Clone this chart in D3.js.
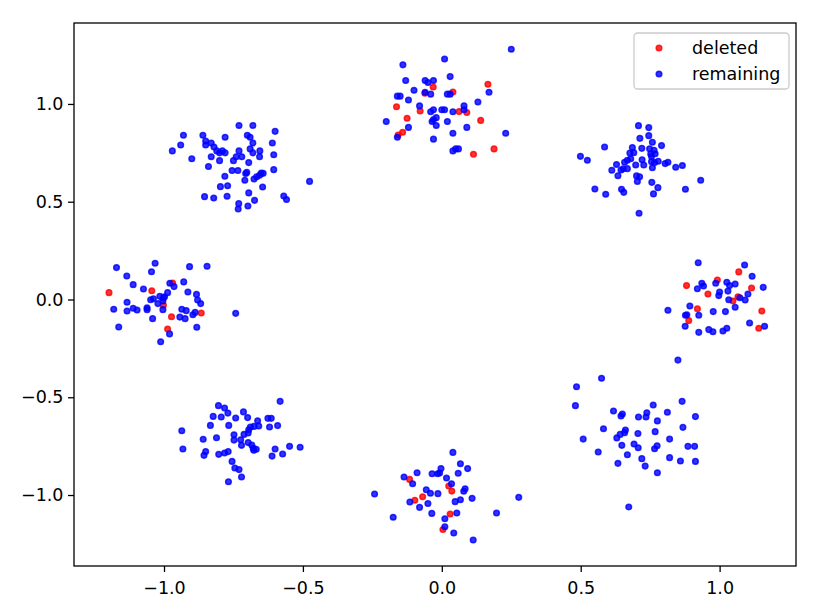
<!DOCTYPE html>
<html>
<head>
<meta charset="utf-8">
<script src="https://cdn.jsdelivr.net/npm/d3@7/dist/d3.min.js"></script>
<style>
  body { margin: 0; background: #fff; }
  svg { display: block; font-family: "DejaVu Sans", sans-serif; }
</style>
</head>
<body>
<svg width="822" height="616"></svg>
<script>
// points that were dropped (red)
var deleted = [
  [0.166, 1.101], [-0.031, 1.087], [-0.061, 1.055], [0.04, 1.061], [-0.163, 0.986], [-0.078, 0.964],
  [0.062, 0.961], [0.09, 0.956], [-0.125, 0.927], [0.14, 0.916], [-0.141, 0.855], [-0.157, 0.841],
  [0.188, 0.77], [0.114, 0.743],
  [-1.198, 0.035], [-1.044, 0.045], [-0.969, 0.084], [-1.002, -0.03], [-0.973, -0.088], [-0.866, -0.069],
  [-0.987, -0.151],
  [0.881, 0.071], [0.992, 0.1], [1.069, 0.141], [0.958, 0.028], [1.115, 0.059], [1.066, 0.014],
  [1.048, -0.008], [0.92, -0.047], [0.889, -0.108], [1.152, -0.059], [1.141, -0.147],
  [-0.116, -0.92], [0.025, -0.954], [0.036, -0.98], [-0.069, -1.009], [-0.097, -1.027], [0.03, -1.097],
  [0.004, -1.176]
];

// points that stay (blue)
var remaining = [
  // top
  [0.25, 1.28], [0.01, 1.23], [-0.14, 1.2], [0.03, 1.14], [-0.13, 1.12], [-0.06, 1.12], [-0.05, 1.11],
  [-0.03, 1.12], [-0.1, 1.07], [-0.06, 1.06], [-0.04, 1.05], [0.02, 1.05], [0.03, 1.05], [-0.16, 1.04],
  [-0.15, 1.04], [-0.12, 1.02], [0.17, 1.06], [0.13, 1.01], [-0.08, 0.99], [0.08, 0.99], [0.08, 0.97],
  [-0.04, 0.96], [-0.03, 0.97], [0.0, 0.97], [0.01, 0.97], [0.04, 0.96], [-0.2, 0.91], [-0.02, 0.93],
  [-0.035, 0.91], [-0.03, 0.92], [0.02, 0.91], [-0.02, 0.89], [-0.12, 0.88], [0.09, 0.88], [-0.16, 0.83],
  [-0.03, 0.82], [0.04, 0.85], [0.23, 0.85], [0.04, 0.76], [0.05, 0.77], [0.06, 0.77],
  // top left
  [-0.73, 0.89], [-0.68, 0.89], [-0.93, 0.84], [-0.86, 0.84], [-0.7, 0.84], [-0.69, 0.83], [-0.6, 0.86],
  [-0.97, 0.76], [-0.94, 0.79], [-0.85, 0.81], [-0.85, 0.79], [-0.83, 0.8], [-0.82, 0.78], [-0.78, 0.83],
  [-0.68, 0.8], [-0.61, 0.8], [-0.81, 0.76], [-0.8, 0.75], [-0.79, 0.76], [-0.78, 0.75], [-0.73, 0.76],
  [-0.69, 0.77], [-0.68, 0.75], [-0.655, 0.76], [-0.656, 0.73], [-0.605, 0.74], [-0.9, 0.72], [-0.83, 0.73],
  [-0.74, 0.73], [-0.72, 0.73], [-0.75, 0.71], [-0.8, 0.71], [-0.695, 0.7], [-0.84, 0.68], [-0.755, 0.66],
  [-0.734, 0.66], [-0.702, 0.65], [-0.706, 0.644], [-0.605, 0.664], [-0.65, 0.647], [-0.643, 0.645],
  [-0.656, 0.635], [-0.666, 0.628], [-0.676, 0.616], [-0.781, 0.63], [-0.709, 0.61], [-0.476, 0.604],
  [-0.771, 0.582], [-0.797, 0.577], [-0.645, 0.575], [-0.569, 0.529], [-0.559, 0.511], [-0.854, 0.526],
  [-0.821, 0.519], [-0.773, 0.528], [-0.695, 0.545], [-0.674, 0.507], [-0.731, 0.49], [-0.698, 0.478],
  [-0.733, 0.463],
  // top right
  [0.708, 0.889], [0.745, 0.879], [0.713, 0.824], [0.745, 0.838], [0.758, 0.804], [0.791, 0.787],
  [0.586, 0.78], [0.686, 0.777], [0.72, 0.773], [0.748, 0.771], [0.764, 0.763], [0.677, 0.749],
  [0.691, 0.751], [0.752, 0.744], [0.768, 0.745], [0.499, 0.732], [0.524, 0.712], [0.68, 0.72],
  [0.668, 0.712], [0.658, 0.702], [0.721, 0.715], [0.755, 0.731], [0.755, 0.705], [0.766, 0.7],
  [0.779, 0.707], [0.804, 0.695], [0.814, 0.702], [0.629, 0.69], [0.698, 0.688], [0.727, 0.688],
  [0.758, 0.674], [0.842, 0.676], [0.866, 0.685], [0.612, 0.661], [0.645, 0.662], [0.653, 0.668],
  [0.668, 0.669], [0.634, 0.633], [0.701, 0.632], [0.712, 0.628], [0.704, 0.604], [0.756, 0.599],
  [0.932, 0.61], [0.551, 0.565], [0.59, 0.538], [0.647, 0.564], [0.655, 0.548], [0.778, 0.572],
  [0.762, 0.54], [0.877, 0.564], [0.71, 0.441],
  // left
  [-1.032, 0.185], [-1.171, 0.163], [-1.045, 0.142], [-0.908, 0.168], [-0.845, 0.17], [-1.134, 0.12],
  [-1.111, 0.076], [-1.074, 0.054], [-0.979, 0.083], [-0.964, 0.066], [-0.929, 0.09], [-0.987, 0.035],
  [-0.914, 0.038], [-0.883, 0.026], [-1.048, -0.001], [-1.038, 0.004], [-1.015, 0.016], [-1.003, 0.008],
  [-0.998, 0.014], [-1.022, -0.021], [-1.004, -0.008], [-1.004, -0.052], [-1.133, -0.014], [-1.133, -0.059],
  [-1.181, -0.05], [-1.111, -0.045], [-1.097, -0.054], [-1.061, -0.042], [-1.061, -0.052], [-0.879, -0.003],
  [-0.868, -0.021], [-0.936, -0.05], [-0.92, -0.057], [-0.888, -0.066], [-0.896, -0.078], [-0.943, -0.09],
  [-0.924, -0.098], [-1.041, -0.098], [-0.742, -0.071], [-1.163, -0.141], [-0.882, -0.142], [-0.98, -0.176],
  [-1.012, -0.216],
  // right
  [0.923, 0.188], [1.09, 0.176], [1.117, 0.119], [0.936, 0.083], [0.942, 0.069], [0.92, 0.055],
  [0.986, 0.083], [1.026, 0.088], [1.036, 0.071], [1.056, 0.079], [1.157, 0.062], [1.0, 0.038],
  [1.03, 0.043], [0.997, 0.02], [1.073, 0.009], [1.102, 0.028], [1.033, -0.001], [1.092, -0.003],
  [1.056, -0.04], [0.893, -0.033], [0.814, -0.055], [0.925, -0.081], [0.877, -0.081], [0.882, -0.078],
  [0.977, -0.062], [1.021, -0.062], [0.876, -0.137], [0.925, -0.168], [0.961, -0.154], [0.976, -0.165],
  [1.012, -0.161], [1.026, -0.147], [1.108, -0.12], [1.162, -0.137], [0.85, -0.31],
  // bottom left
  [-0.804, -0.543], [-0.782, -0.555], [-0.77, -0.581], [-0.714, -0.575], [-0.582, -0.521], [-0.823, -0.598],
  [-0.794, -0.601], [-0.742, -0.606], [-0.699, -0.604], [-0.626, -0.608], [-0.614, -0.608], [-0.663, -0.62],
  [-0.833, -0.644], [-0.767, -0.644], [-0.689, -0.652], [-0.676, -0.649], [-0.659, -0.647], [-0.62, -0.652],
  [-0.591, -0.645], [-0.695, -0.666], [-0.697, -0.683], [-0.936, -0.671], [-0.859, -0.715], [-0.811, -0.707],
  [-0.748, -0.692], [-0.748, -0.719], [-0.712, -0.69], [-0.724, -0.717], [-0.721, -0.746], [-0.697, -0.732],
  [-0.684, -0.744], [-0.679, -0.761], [-0.677, -0.771], [-0.668, -0.766], [-0.932, -0.765], [-0.85, -0.778],
  [-0.856, -0.797], [-0.803, -0.792], [-0.782, -0.785], [-0.769, -0.778], [-0.6, -0.765], [-0.548, -0.751],
  [-0.51, -0.756], [-0.611, -0.801], [-0.573, -0.79], [-0.755, -0.828], [-0.745, -0.862], [-0.73, -0.87],
  [-0.721, -0.908], [-0.768, -0.932],
  // bottom right
  [0.575, -0.403], [0.485, -0.446], [0.481, -0.543], [0.865, -0.521], [0.761, -0.54], [0.618, -0.57],
  [0.65, -0.586], [0.645, -0.596], [0.738, -0.579], [0.735, -0.601], [0.708, -0.601], [0.812, -0.577],
  [0.913, -0.599], [0.776, -0.621], [0.582, -0.661], [0.661, -0.668], [0.868, -0.654], [0.642, -0.69],
  [0.658, -0.681], [0.63, -0.708], [0.706, -0.685], [0.768, -0.676], [0.509, -0.714], [0.82, -0.714],
  [0.648, -0.746], [0.692, -0.739], [0.707, -0.758], [0.775, -0.748], [0.766, -0.763], [0.886, -0.751],
  [0.91, -0.751], [0.563, -0.78], [0.668, -0.794], [0.72, -0.814], [0.82, -0.809], [0.859, -0.826],
  [0.913, -0.828], [0.634, -0.838], [0.732, -0.852], [0.776, -0.886], [0.673, -1.061],
  // bottom
  [0.04, -0.782], [0.067, -0.84], [0.093, -0.865], [-0.003, -0.865], [-0.008, -0.887], [-0.015, -0.891],
  [-0.035, -0.891], [-0.089, -0.886], [-0.136, -0.908], [0.059, -0.889], [0.017, -0.913], [-0.105, -0.942],
  [0.035, -0.942], [-0.242, -0.995], [-0.056, -0.973], [-0.041, -0.991], [-0.014, -0.993], [0.084, -0.968],
  [0.079, -0.981], [0.109, -1.017], [0.067, -1.024], [0.048, -1.034], [-0.115, -1.036], [-0.05, -1.043],
  [-0.08, -1.063], [0.277, -1.012], [-0.036, -1.094], [0.054, -1.092], [0.197, -1.092], [-0.175, -1.114],
  [0.011, -1.121], [0.011, -1.162], [0.043, -1.194], [0.113, -1.23]
];

var xTicks = [-1.0, -0.5, 0.0, 0.5, 1.0];
var yTicks = [-1.0, -0.5, 0.0, 0.5, 1.0];
var legendNames = ["deleted", "remaining"];
var legendColors = ["red", "blue"];

var svg = d3.select("svg");
var plotLeft = 74, plotRight = 796, plotTop = 23, plotBottom = 566;

var x = d3.scaleLinear().domain([-1.324, 1.275]).range([plotLeft, plotRight]);
var y = d3.scaleLinear().domain([-1.363, 1.414]).range([plotBottom, plotTop]);

function fmt(d) {
	return d3.format(".1f")(d).replace("-", "\u2212");
}

function dots(g, data, color) {
	g.selectAll("circle").data(data).enter().append("circle")
	    .attr("cx", function (d) { return x(d[0]); })
	    .attr("cy", function (d) { return y(d[1]); })
	    .attr("r", 2.8)
	    .attr("fill", color)
	    .attr("fill-opacity", 0.8)
	    .attr("stroke", color)
	    .attr("stroke-opacity", 0.8)
	    .attr("stroke-width", 1.5);
}

svg.append("rect").attr("width", 822).attr("height", 616).attr("fill", "white");

dots(svg.append("g"), deleted, legendColors[0]);
dots(svg.append("g"), remaining, legendColors[1]);

svg.append("g")
    .attr("transform", "translate(0," + plotBottom + ")")
    .call(d3.axisBottom(x).tickValues(xTicks).tickFormat(fmt).tickSizeInner(6).tickSizeOuter(0).tickPadding(9.5));
svg.append("g")
    .attr("transform", "translate(" + plotLeft + ",0)")
    .call(d3.axisLeft(y).tickValues(yTicks).tickFormat(fmt).tickSizeInner(6).tickSizeOuter(0).tickPadding(4.5));

svg.selectAll(".domain").remove();
svg.selectAll(".tick line").attr("stroke", "black").attr("stroke-width", 1.3);
svg.selectAll(".tick text")
    .attr("fill", "black")
    .style("font-size", "17.5px")
    .style("font-family", "'DejaVu Sans', sans-serif");

// frame
svg.append("rect")
    .attr("x", plotLeft).attr("y", plotTop)
    .attr("width", plotRight - plotLeft).attr("height", plotBottom - plotTop)
    .attr("fill", "none").attr("stroke", "black").attr("stroke-width", 1.3);

// legend
var legend = svg.append("g");
legend.append("rect")
    .attr("x", 634).attr("y", 33)
    .attr("width", 155).attr("height", 56)
    .attr("rx", 3.5)
    .attr("fill", "white").attr("fill-opacity", 0.8)
    .attr("stroke", "#cccccc").attr("stroke-width", 1.3);

var items = legend.selectAll(".item").data(legendNames).enter().append("g")
    .attr("class", "item")
    .attr("transform", function (d, i) { return "translate(659," + (48 + i * 26) + ")"; });
items.append("circle")
    .attr("r", 2.8)
    .attr("fill", function (d, i) { return legendColors[i]; })
    .attr("fill-opacity", 0.8)
    .attr("stroke", function (d, i) { return legendColors[i]; })
    .attr("stroke-opacity", 0.8)
    .attr("stroke-width", 1.5);
items.append("text")
    .attr("x", 33)
    .attr("dy", "0.36em")
    .attr("fill", "black")
    .style("font-size", "17.5px")
    .text(function (d) { return d; });
</script>
</body>
</html>
